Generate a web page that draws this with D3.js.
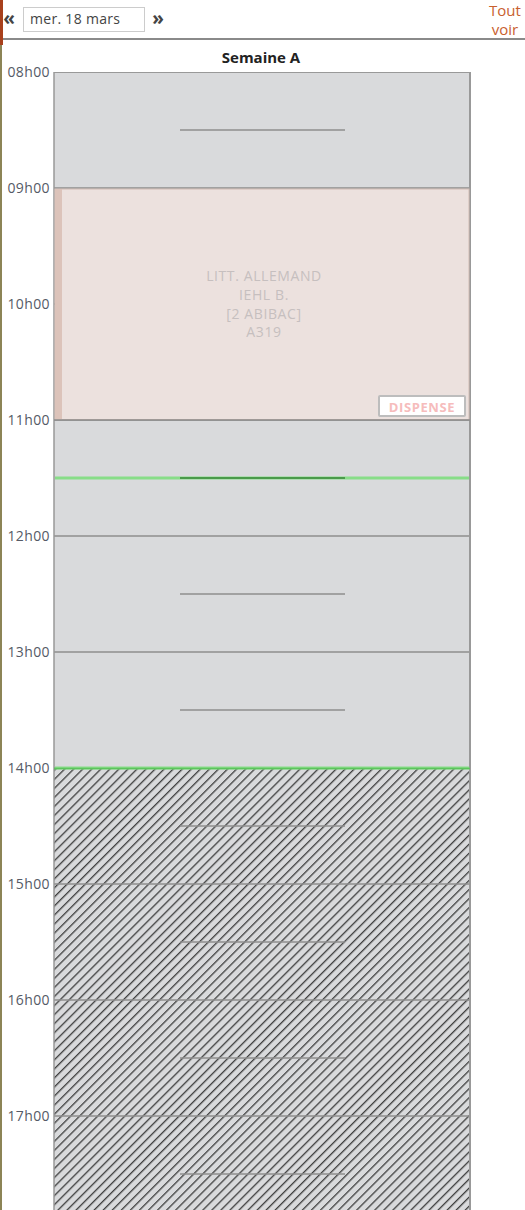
<!DOCTYPE html>
<html>
<head>
<meta charset="utf-8">
<script src="https://cdn.jsdelivr.net/npm/d3@7"></script>
<style>
  body { margin: 0; background: #fff; font-family: "Open Sans", sans-serif; }
  svg { display: block; }
</style>
</head>
<body>
<svg id="edt"></svg>
<script>
// heures affichées sur la gauche
const hours = [8, 9, 10, 11, 12, 13, 14, 15, 16, 17];
const hourLabels = ["08h00", "09h00", "10h00", "11h00", "12h00", "13h00", "14h00", "15h00", "16h00", "17h00"];
const weekLabel = "Semaine A";
const dateLabel = "mer. 18 mars";

// cours de la journée
const courses = [
  { start: 9, end: 11, lines: ["LITT. ALLEMAND", "IEHL B.", "[2 ABIBAC]", "A319"], tag: "DISPENSE" }
];
// repères verts (heure courante / fin de journée)
const greenMarks = [11.5, 14];
// zone hachurée (hors cours)
const hatchStart = 14;

const W = 525, H = 1210;
const svg = d3.select('#edt').attr('width', W).attr('height', H);

const x0 = 54, x1 = 470;
const y = d3.scaleLinear().domain([8, 18]).range([72, 1232]);

// --- barre du haut
svg.append('rect').attr('x', 0).attr('y', 0).attr('width', 3).attr('height', 45).attr('fill', '#a8401c');
svg.append('rect').attr('x', 0).attr('y', 45).attr('width', 2).attr('height', H - 45).attr('fill', '#8c8456');
svg.append('rect').attr('x', 3).attr('y', 38).attr('width', W).attr('height', 2).attr('fill', '#8a8a8a');

svg.append('text').attr('x', 9).attr('y', 25).attr('text-anchor', 'middle')
  .attr('font-size', 19).attr('font-weight', 'bold').attr('fill', '#444').text('«');
svg.append('rect').attr('x', 23.5).attr('y', 7.5).attr('width', 121).attr('height', 24)
  .attr('fill', '#fff').attr('stroke', '#ccc');
svg.append('text').attr('x', 30).attr('y', 24).attr('font-size', 14).attr('letter-spacing', 0.3)
  .attr('fill', '#444').text(dateLabel);
svg.append('text').attr('x', 158).attr('y', 25).attr('text-anchor', 'middle')
  .attr('font-size', 19).attr('font-weight', 'bold').attr('fill', '#444').text('»');
svg.append('text').attr('x', 505).attr('y', 16).attr('text-anchor', 'middle')
  .attr('font-size', 15).attr('fill', '#c8602e').text('Tout');
svg.append('text').attr('x', 505).attr('y', 35).attr('text-anchor', 'middle')
  .attr('font-size', 15).attr('fill', '#c8602e').text('voir');

svg.append('text').attr('x', 261).attr('y', 63).attr('text-anchor', 'middle')
  .attr('font-size', 15).attr('font-weight', 'bold').attr('fill', '#222').text(weekLabel);

// --- fond de la grille
const defs = svg.append('defs');
const pat = defs.append('pattern').attr('id', 'hatch').attr('patternUnits', 'userSpaceOnUse')
  .attr('width', 6.4).attr('height', 6.4).attr('patternTransform', 'rotate(45)');
pat.append('rect').attr('width', 6.4).attr('height', 6.4).attr('fill', '#d9dadc');
pat.append('line').attr('x1', 0.7).attr('y1', 0).attr('x2', 0.7).attr('y2', 6.4)
  .attr('stroke', '#222').attr('stroke-width', 1.1);

svg.append('rect').attr('x', x0).attr('y', y(8)).attr('width', x1 - x0).attr('height', H - y(8))
  .attr('fill', '#d9dadc');
svg.append('rect').attr('x', x0).attr('y', y(hatchStart)).attr('width', x1 - x0).attr('height', H - y(hatchStart))
  .attr('fill', 'url(#hatch)');

// lignes d'heures et demi-heures
const grid = svg.append('g');
grid.selectAll('line.h').data(hours.filter(h => h > 8)).join('line')
  .attr('class', 'h')
  .attr('x1', x0).attr('x2', x1).attr('y1', d => y(d)).attr('y2', d => y(d))
  .attr('stroke', '#8e8e8e').attr('stroke-width', 1.5);
grid.selectAll('line.hh').data(hours).join('line')
  .attr('class', 'hh')
  .attr('x1', 180).attr('x2', 345).attr('y1', d => y(d + 0.5)).attr('y2', d => y(d + 0.5))
  .attr('stroke', '#8e8e8e').attr('stroke-width', 1.5);

// bords de la colonne
svg.append('line').attr('x1', x0).attr('x2', x1).attr('y1', y(8) + 0.5).attr('y2', y(8) + 0.5).attr('stroke', '#999');
svg.append('line').attr('x1', x0).attr('x2', x0).attr('y1', y(8)).attr('y2', H).attr('stroke', '#999').attr('stroke-width', 1.5);
svg.append('line').attr('x1', x1).attr('x2', x1).attr('y1', y(8)).attr('y2', H).attr('stroke', '#999').attr('stroke-width', 2);

// --- cours
const c = svg.selectAll('g.cours').data(courses).join('g').attr('class', 'cours');
c.append('rect').attr('x', x0 + 1).attr('y', d => y(d.start) + 1)
  .attr('width', x1 - x0 - 2).attr('height', d => y(d.end) - y(d.start) - 1.5)
  .attr('fill', '#ece1de').attr('stroke', '#d2bcb4');
c.append('rect').attr('x', x0 + 1).attr('y', d => y(d.start) + 1)
  .attr('width', 7).attr('height', d => y(d.end) - y(d.start) - 1.5).attr('fill', '#dcc3ba');
c.each(function(d) {
  const g = d3.select(this);
  g.selectAll('text.l').data(d.lines).join('text').attr('class', 'l')
    .attr('x', 264).attr('y', (t, i) => y(d.start) + 93 + i * 18.8)
    .attr('text-anchor', 'middle').attr('font-size', 14).attr('letter-spacing', 0.6)
    .attr('fill', '#c6bfbf').text(t => t);
  g.append('rect').attr('x', 379).attr('y', y(d.end) - 24).attr('width', 86).attr('height', 20)
    .attr('fill', '#fff').attr('stroke', '#bdbdbd').attr('stroke-width', 2).attr('rx', 1);
  g.append('text').attr('x', 422).attr('y', y(d.end) - 8.5).attr('text-anchor', 'middle')
    .attr('font-size', 13).attr('font-weight', 'bold').attr('letter-spacing', 0.6)
    .attr('fill', '#f6bcbc').text(d.tag);
});
c.append('line').attr('x1', x0).attr('x2', x1).attr('y1', d => y(d.end)).attr('y2', d => y(d.end))
  .attr('stroke', '#8e8e8e').attr('stroke-width', 1.5);

// --- repères verts
svg.selectAll('rect.green').data(greenMarks).join('rect').attr('class', 'green')
  .attr('x', x0 + 1).attr('y', d => y(d) - 1.5).attr('width', x1 - x0 - 2).attr('height', 3)
  .attr('fill', '#88dd88');
svg.append('line').attr('x1', 180).attr('x2', 345).attr('y1', y(11.5)).attr('y2', y(11.5))
  .attr('stroke', '#4a9a4a').attr('stroke-width', 2);
svg.append('line').attr('x1', x0).attr('x2', x1).attr('y1', y(14) + 0.5).attr('y2', y(14) + 0.5)
  .attr('stroke', '#5cc45c').attr('stroke-width', 1.5);

// --- étiquettes d'heures
svg.selectAll('text.hour').data(hours).join('text').attr('class', 'hour')
  .attr('x', 50).attr('y', d => y(d) + 5).attr('text-anchor', 'end')
  .attr('font-size', 14).attr('letter-spacing', 0.4).attr('fill', '#555a66')
  .text((d, i) => hourLabels[i]);
</script>
</body>
</html>
